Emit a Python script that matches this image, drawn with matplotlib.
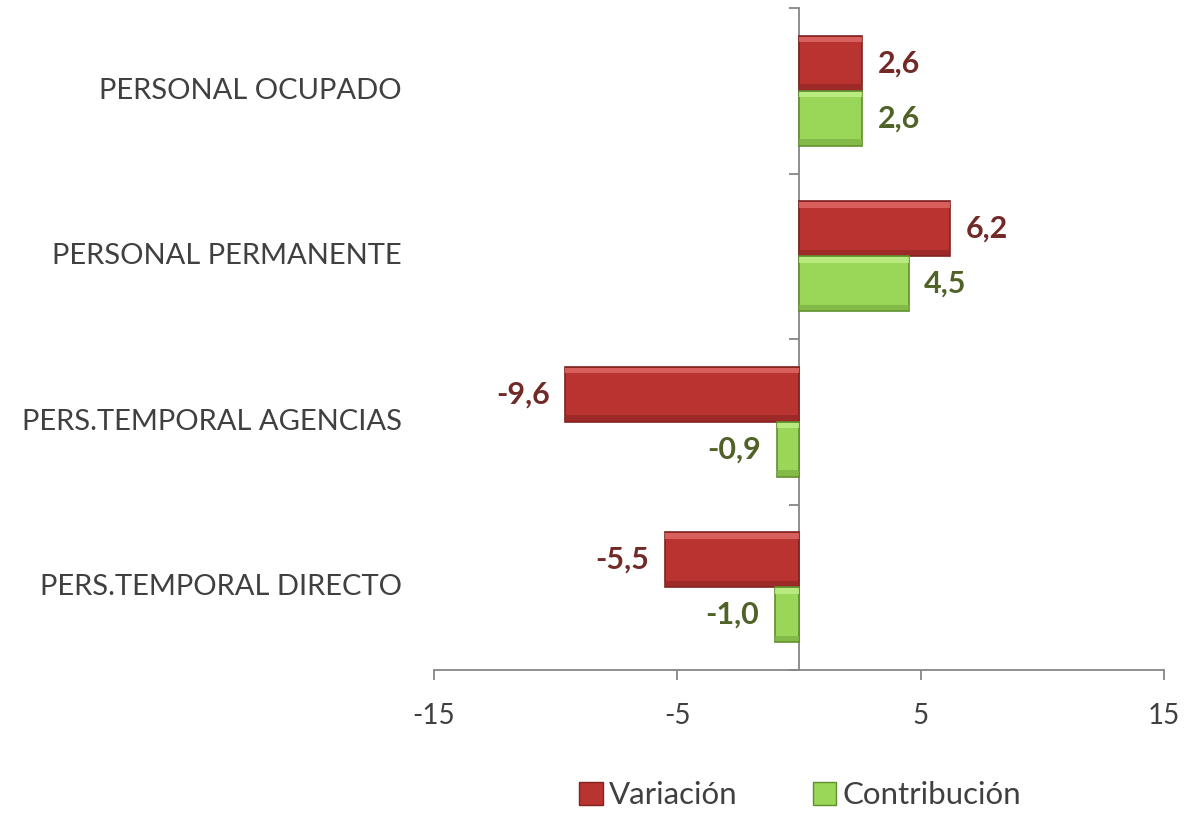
import matplotlib
matplotlib.use("Agg")
import matplotlib.pyplot as plt
from matplotlib.transforms import blended_transform_factory
from matplotlib.patches import Patch

categories = ["PERSONAL OCUPADO", "PERSONAL PERMANENTE", "PERS.TEMPORAL AGENCIAS", "PERS.TEMPORAL DIRECTO"]
variacion = [2.6, 6.2, -9.6, -5.5]
contribucion = [2.6, 4.5, -0.9, -1.0]
series_names = ["Variación", "Contribución"]
xticks = [-15, -5, 5, 15]

plt.rcParams['font.family'] = ['Lato', 'DejaVu Sans']

W, H = 1185, 836
fig = plt.figure(figsize=(W / 100, H / 100), dpi=100)
ax = fig.add_axes([434 / W, (836 - 670) / H, (1164 - 434) / W, (670 - 8) / H])

n = len(categories)
pos = [n - 1 - i for i in range(n)]
bh = 1 / 3
red_face, red_edge = "#b93431", "#7f2220"
grn_face, grn_edge = "#9ad758", "#5f8f2c"
red_txt, grn_txt = "#722a28", "#4f6228"
gray = "#868686"

ax.barh([p + bh / 2 for p in pos], variacion, height=bh, color=red_face,
        edgecolor=red_edge, linewidth=1.2, zorder=3)
ax.barh([p - bh / 2 for p in pos], contribucion, height=bh, color=grn_face,
        edgecolor=grn_edge, linewidth=1.2, zorder=3)

# subtle bevel: lighter top strip, darker bottom strip
for vals, yoff, hl, dk in [(variacion, bh / 2, "#e06a66", "#962826"),
                           (contribucion, -bh / 2, "#c0f08a", "#7fb545")]:
    for p, v in zip(pos, vals):
        ax.barh(p + yoff + bh * 0.43, v, height=bh * 0.1, color=hl, alpha=0.8,
                linewidth=0, zorder=4)
        ax.barh(p + yoff - bh * 0.43, v, height=bh * 0.1, color=dk, alpha=0.8,
                linewidth=0, zorder=4)

def fmt(v):
    return f"{v:.1f}".replace(".", ",")

off = 0.65
for p, v in zip(pos, variacion):
    ax.text(v + (off if v >= 0 else -off), p + bh / 2, fmt(v), ha="left" if v >= 0 else "right",
            va="center", fontsize=22, fontweight="bold", color=red_txt, zorder=5)
for p, v in zip(pos, contribucion):
    ax.text(v + (off if v >= 0 else -off), p - bh / 2, fmt(v), ha="left" if v >= 0 else "right",
            va="center", fontsize=22, fontweight="bold", color=grn_txt, zorder=5)

ax.set_xlim(-15, 15)
ax.set_ylim(-0.5, n - 0.5)
ax.set_xticks(xticks)
ax.set_xticklabels([str(t) for t in xticks])
ax.set_yticks([i - 0.5 for i in range(n + 1)])
ax.set_yticklabels([])

for s in ["top", "right"]:
    ax.spines[s].set_visible(False)
ax.spines["left"].set_position(("data", 0))
ax.spines["left"].set_color(gray)
ax.spines["bottom"].set_color(gray)
ax.spines["left"].set_linewidth(1.3)
ax.spines["bottom"].set_linewidth(1.3)
ax.tick_params(axis="x", direction="out", length=7.5, width=1.3, color=gray,
               labelsize=20, labelcolor="#404040", pad=16)
ax.tick_params(axis="y", direction="out", length=7, width=1.3, color=gray)

trans = blended_transform_factory(ax.transAxes, ax.transData)
for p, c in zip(pos, categories):
    ax.text(-32 / 730, p, c, transform=trans, ha="right", va="center",
            fontsize=21, color="#404040")

handles = [Patch(facecolor=red_face, edgecolor=red_edge), Patch(facecolor=grn_face, edgecolor=grn_edge)]
fig.legend(handles, series_names, loc="center", bbox_to_anchor=(800 / W, 1 - 795 / H),
           ncol=2, frameon=False, fontsize=22.5, labelcolor="#404040",
           handlelength=0.75, handleheight=0.75, handletextpad=0.2, columnspacing=2.4)

fig.savefig("out.png", dpi=100)
